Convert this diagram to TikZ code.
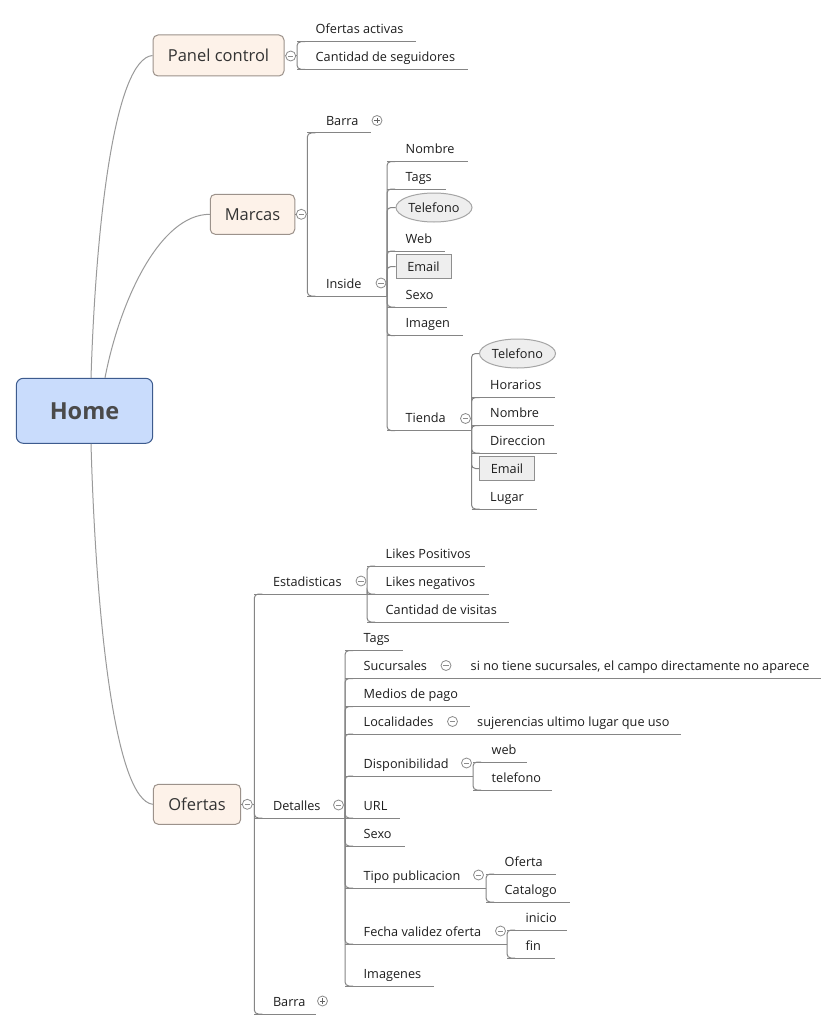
\documentclass[tikz,border=0pt]{standalone}
\usepackage{fontspec}
\setmainfont{Open Sans}
\usetikzlibrary{shapes.geometric,calc}
\definecolor{lineg}{HTML}{858585}
\definecolor{curveg}{HTML}{9A9A9A}
\definecolor{circg}{HTML}{8C8C8C}
\definecolor{boxfill}{HTML}{FDF2E9}
\definecolor{boxdraw}{HTML}{9C928B}
\definecolor{homefill}{HTML}{C9DCFC}
\definecolor{homedraw}{HTML}{3D5B8E}
\definecolor{hometext}{HTML}{4A4A4A}
\definecolor{leaftext}{HTML}{1E1E1E}
\definecolor{maintext}{HTML}{333333}
\definecolor{shapefill}{HTML}{EEEEEE}
\definecolor{shapedraw}{HTML}{8F8F8F}
\tikzset{
  leaf/.style={anchor=base west, inner sep=0pt, text=leaftext, font=\fontsize{12.7}{15}\selectfont},
  uline/.style={draw=lineg, line width=1pt},
  conn/.style={draw=lineg, line width=1pt, rounded corners=4pt},
  curve/.style={draw=curveg, line width=1pt},
  maintopic/.style={draw=boxdraw, fill=boxfill, rounded corners=5pt, line width=1pt, text=maintext,
    font=\fontsize{16.5}{20}\selectfont, text height=11.8pt, text depth=0pt, inner sep=0pt},
  hometopic/.style={draw=homedraw, fill=homefill, rounded corners=7pt, line width=1pt, text=hometext,
    font=\fontsize{23.5}{28}\selectfont\bfseries, text height=16.7pt, text depth=0pt, inner sep=0pt,
    minimum width=136.4pt, minimum height=65pt},
  ovalleaf/.style={ellipse, draw=shapedraw!80, fill=shapefill, line width=1pt, inner sep=0pt,
    minimum width=76pt, minimum height=29pt, text=leaftext, font=\fontsize{12.7}{15}\selectfont},
  boxleaf/.style={rectangle, draw=shapedraw, fill=shapefill, line width=1pt, inner sep=0pt,
    minimum width=55pt, minimum height=24pt, text=leaftext, font=\fontsize{12.7}{15}\selectfont},
  collapse/.style={circle, draw=circg, fill=white, line width=0.8pt, inner sep=0pt, minimum size=10pt,
    path picture={\draw[circg, line width=0.9pt] ([xshift=-2.6pt]path picture bounding box.center) -- ([xshift=2.6pt]path picture bounding box.center);}},
  expand/.style={circle, draw=circg, fill=white, line width=0.8pt, inner sep=0pt, minimum size=10pt,
    path picture={\draw[circg!70!black, line width=0.9pt] ([xshift=-2.6pt]path picture bounding box.center) -- ([xshift=2.6pt]path picture bounding box.center)
      ([yshift=-2.6pt]path picture bounding box.center) -- ([yshift=2.6pt]path picture bounding box.center);}},
}
\newcommand\leaf[5]{%
  \coordinate (#1-l) at (#2,#3);
  \coordinate (#1-r) at (#4,#3);
  \node[leaf] (#1) at (#2+18.5,#3-8) {#5};
  \draw[uline] (#1-l) -- (#1-r);
}
\newcommand\link[2]{\draw[conn] (#1) |- ($(#2-l)+(8,0)$);}
\newcommand\linkshape[2]{\draw[conn] (#1) |- (#2.west);}
\begin{document}
\begin{tikzpicture}[x=1pt,y=-1pt]
\useasboundingbox (0,0) rectangle (837,1030);
\fill[white] (0,0) rectangle (837,1030);

% main topics
\node[hometopic] (home) at (84.5,410.8) {Home};
\node[maintopic, minimum width=131pt, minimum height=41pt] (panel) at (218.5,55.5) {Panel control};
\node[maintopic, minimum width=84.5pt, minimum height=40pt] (marcas) at (252.5,214.3) {Marcas};
\node[maintopic, minimum width=87.4pt, minimum height=40pt] (ofertas) at (197,804.3) {Ofertas};

% curves from Home
\draw[curve] ([xshift=6.5pt]home.north) .. controls (96,220) and (115,59) .. (panel.west);
\draw[curve] ([xshift=20.5pt]home.north) .. controls (120,300) and (160,214.3) .. (marcas.west);
\draw[curve] ([xshift=6.5pt]home.south) .. controls (96,620) and (115,800) .. (ofertas.west);

% Panel control
\coordinate (panel-j) at (297,55.5);
\draw[conn] (panel.east) -- (panel-j);
\leaf{ofa}{297}{41.7}{415.5}{Ofertas activas}
\leaf{cds}{297}{69.3}{467.5}{Cantidad de seguidores}
\link{panel-j}{ofa}
\link{panel-j}{cds}

% Marcas
\coordinate (marcas-j) at (307.3,214.3);
\draw[conn] (marcas.east) -- (marcas-j);
\leaf{barram}{307.3}{133}{371}{Barra}
\leaf{inside}{307.3}{296}{387}{Inside}
\link{marcas-j}{barram}
\link{marcas-j}{inside}

% Inside
\leaf{nombre}{387}{161.5}{468}{Nombre}
\leaf{tags}{387}{189}{445.5}{Tags}
\node[ovalleaf] (tel) at (434,207.5) {Telefono};
\leaf{web}{387}{251}{444.5}{Web}
\node[boxleaf] (email) at (423.5,266.5) {Email};
\leaf{sexo}{387}{307}{446.5}{Sexo}
\leaf{imagen}{387}{335.5}{463}{Imagen}
\leaf{tienda}{387}{430.5}{471.5}{Tienda}
\link{inside-r}{nombre}
\link{inside-r}{tags}
\linkshape{inside-r}{tel}
\link{inside-r}{web}
\linkshape{inside-r}{email}
\link{inside-r}{sexo}
\link{inside-r}{imagen}
\link{inside-r}{tienda}

% Tienda
\node[ovalleaf] (tel2) at (517.5,353.5) {Telefono};
\leaf{horarios}{471.5}{397.5}{555}{Horarios}
\leaf{nombre2}{471.5}{425.5}{554}{Nombre}
\leaf{direccion}{471.5}{453}{557}{Direccion}
\node[boxleaf] (email2) at (507,468.5) {Email};
\leaf{lugar}{471.5}{509}{537}{Lugar}
\linkshape{tienda-r}{tel2}
\link{tienda-r}{horarios}
\link{tienda-r}{nombre2}
\link{tienda-r}{direccion}
\linkshape{tienda-r}{email2}
\link{tienda-r}{lugar}

% Ofertas
\coordinate (ofertas-j) at (254.3,804.3);
\draw[conn] (ofertas.east) -- (ofertas-j);
\leaf{estad}{254.3}{594}{367}{Estadisticas}
\leaf{detalles}{254.3}{818}{345}{Detalles}
\leaf{barrao}{254.3}{1014}{316}{Barra}
\link{ofertas-j}{estad}
\link{ofertas-j}{detalles}
\link{ofertas-j}{barrao}

% Estadisticas
\leaf{likesp}{367}{566}{485}{Likes Positivos}
\leaf{likesn}{367}{594}{488.5}{Likes negativos}
\leaf{cantv}{367}{622}{509}{Cantidad de visitas}
\link{estad-r}{likesp}
\link{estad-r}{likesn}
\link{estad-r}{cantv}

% Detalles
\leaf{tags2}{345}{650.5}{403}{Tags}
\leaf{sucursales}{345}{678.5}{452}{Sucursales}
\leaf{medios}{345}{706.5}{470}{Medios de pago}
\leaf{localidades}{345}{734}{458.5}{Localidades}
\leaf{dispon}{345}{776}{473}{Disponibilidad}
\leaf{url}{345}{818}{400}{URL}
\leaf{sexo2}{345}{846}{405}{Sexo}
\leaf{tipo}{345}{888}{486}{Tipo publicacion}
\leaf{fecha}{345}{944}{507}{Fecha validez oferta}
\leaf{imagenes}{345}{986}{434}{Imagenes}
\foreach \c in {tags2,sucursales,medios,localidades,dispon,url,sexo2,tipo,fecha,imagenes}
  {\link{detalles-r}{\c}}

\leaf{sinotiene}{452}{678.5}{821}{si no tiene sucursales, el campo directamente no aparece}
\leaf{sujer}{458.5}{734}{681}{sujerencias ultimo lugar que uso}
\draw[uline] (sucursales-r) -- (sinotiene-l);
\draw[uline] (localidades-r) -- (sujer-l);

\leaf{web2}{473}{762}{527}{web}
\leaf{telefono}{473}{790}{552}{telefono}
\link{dispon-r}{web2}
\link{dispon-r}{telefono}

\leaf{oferta}{486}{874}{556}{Oferta}
\leaf{catalogo}{486}{902}{570}{Catalogo}
\link{tipo-r}{oferta}
\link{tipo-r}{catalogo}

\leaf{inicio}{507}{930}{567}{inicio}
\leaf{fin}{507}{958}{555}{fin}
\link{fecha-r}{inicio}
\link{fecha-r}{fin}

% collapse / expand markers
\node[collapse] (c-panel) at (290.7,56) {};
\node[collapse] (c-marcas) at (301.3,214.3) {};
\node[collapse] (c-ofertas) at (247.3,804.3) {};
\node[expand] (c-barram) at (377,120.5) {};
\node[collapse] (c-inside) at (381,283) {};
\node[collapse] (c-tienda) at (465.5,418.5) {};
\node[collapse] (c-estad) at (361,581) {};
\node[collapse] (c-detalles) at (338.5,805) {};
\node[expand] (c-barrao) at (322.5,1001) {};
\node[collapse] (c-sucursales) at (446,665.5) {};
\node[collapse] (c-localidades) at (452.5,721.5) {};
\node[collapse] (c-dispon) at (466.5,763) {};
\node[collapse] (c-tipo) at (478.5,875) {};
\node[collapse] (c-fecha) at (500.5,931) {};
\end{tikzpicture}
\end{document}
